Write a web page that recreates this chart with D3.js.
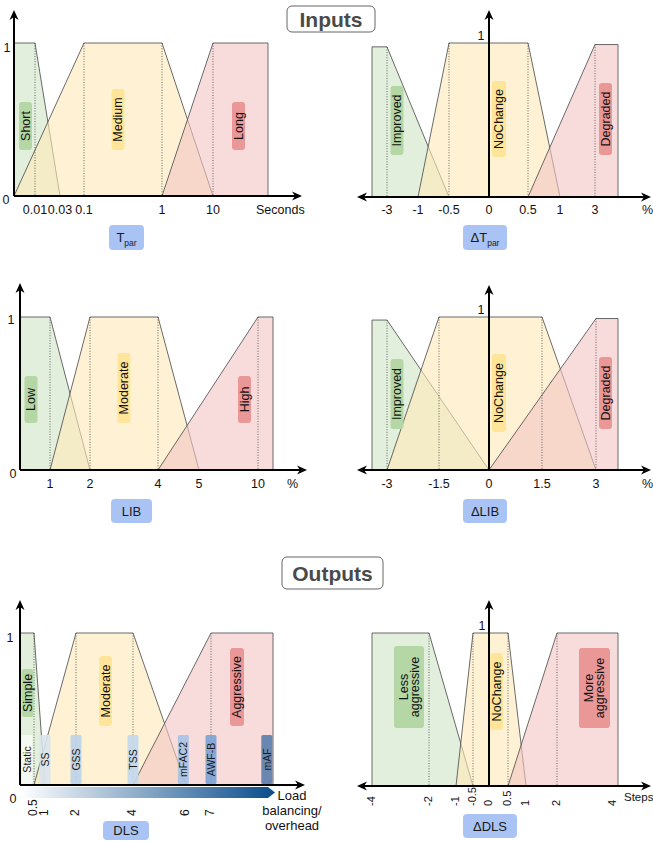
<!DOCTYPE html>
<html><head><meta charset="utf-8">
<script src="https://cdn.jsdelivr.net/npm/d3@7"></script>
<style>body{margin:0;background:#fff}svg{display:block;font-family:"Liberation Sans",Arial,Helvetica,sans-serif}</style>
</head><body><svg id="c" width="653" height="843"></svg>
<script>
// ================= DATA =================
// Tpar (seconds)
const tparDomain = [0, 0.01, 0.03, 0.1, 1, 10, 20];
const tparTicks = [0.01, 0.03, 0.1, 1, 10];
const tparTickLabels = ["0.01", "0.03", "0.1", "1", "10"];
const tparSetNames = ["Short", "Medium", "Long"];
const tparSetPoints = [[0, 0, 0.01, 0.03], [0, 0.1, 1, 10], [1, 10, 20, 20]];
const tparPeaks = [1, 1, 1];

// ΔTpar (%)
const dTparDomain = [-4, -3, -1, -0.5, 0, 0.5, 1, 3, 4];
const dTparTicks = [-3, -1, -0.5, 0, 0.5, 1, 3];
const dTparTickLabels = ["-3", "-1", "-0.5", "0", "0.5", "1", "3"];
const dTparSetNames = ["Improved", "NoChange", "Degraded"];
const dTparSetPoints = [[-4, -4, -3, -0.5], [-1, -0.5, 0.5, 1], [0.5, 3, 4, 4]];
const dTparPeaks = [0.975, 1, 0.99];

// LIB (%)
const libDomain = [0, 1, 2, 4, 5, 10, 12];
const libTicks = [1, 2, 4, 5, 10];
const libTickLabels = ["1", "2", "4", "5", "10"];
const libSetNames = ["Low", "Moderate", "High"];
const libSetPoints = [[0, 0, 1, 2], [1, 2, 4, 5], [4, 10, 12, 12]];
const libPeaks = [1, 1, 1];

// ΔLIB (%)
const dLibDomain = [-4, -3, -1.5, 0, 1.5, 3, 4];
const dLibTicks = [-3, -1.5, 0, 1.5, 3];
const dLibTickLabels = ["-3", "-1.5", "0", "1.5", "3"];
const dLibSetNames = ["Improved", "NoChange", "Degraded"];
const dLibSetPoints = [[-4, -4, -3, 0], [-3, -1.5, 1.5, 3], [0, 3, 4, 4]];
const dLibPeaks = [0.98, 1, 0.99];

// DLS (load balancing / overhead)
const dlsDomain = [0, 0.5, 1, 2, 4, 6, 7, 8];
const dlsTicks = [0.5, 1, 2, 4, 6, 7];
const dlsTickLabels = ["0.5", "1", "2", "4", "6", "7"];
const dlsSetNames = ["Simple", "Moderate", "Aggressive"];
const dlsSetPoints = [[0, 0, 0.5, 1], [0.5, 2, 4, 6], [4, 7, 8, 8]];
const dlsPeaks = [1, 1, 1];
const dlsTechniques = ["Static", "SS", "GSS", "TSS", "mFAC2", "AWF-B", "mAF"];
const dlsTechniquePos = [0.25, 1, 2, 4, 5.9, 7, 7.9];

// ΔDLS (steps)
const dDlsDomain = [-4, -2, -1, -0.5, 0, 0.5, 1, 2, 4, 4.2];
const dDlsTicks = [-4, -2, -1, -0.5, 0, 0.5, 1, 2, 4];
const dDlsTickLabels = ["-4", "-2", "-1", "-0.5", "0", "0.5", "1", "2", "4"];
const dDlsSetNames = ["Less\naggressive", "NoChange", "More\naggressive"];
const dDlsSetPoints = [[-4, -4, -2, -0.5], [-1, -0.5, 0.5, 1], [0.5, 2, 4.2, 4.2]];
const dDlsPeaks = [1, 1, 1];

// ================= STYLE / LAYOUT =================
const setFill = ["#cfe5c6", "#ffe9b8", "#f4c4c4"];
const labelFill = ["#b4d7a5", "#ffe599", "#e99797"];
const techFill = ["#f6faf3", "#d7e3ec", "#bdd3e9", "#c3d8ec", "#a6c2e5", "#7aa2d5", "#5a7dac"];
const nameFill = "#a9c4f4";

const svg = d3.select("#c");
const defs = svg.append("defs");
defs.append("marker").attr("id", "arr").attr("viewBox", "0 0 10 10")
  .attr("refX", 8).attr("refY", 5).attr("markerWidth", 5).attr("markerHeight", 5)
  .attr("orient", "auto-start-reverse")
  .append("path").attr("d", "M0,0.5 L10,5 L0,9.5 L3,5 Z").attr("fill", "#000");
const lg = defs.append("linearGradient").attr("id", "lbgrad").attr("x1", 0).attr("x2", 1).attr("y1", 0).attr("y2", 0);
lg.append("stop").attr("offset", 0).attr("stop-color", "#ffffff");
lg.append("stop").attr("offset", 1).attr("stop-color", "#0a4c8c");

const panels = [
  { domain: tparDomain, range: [14, 35, 60, 84, 162, 213, 268], ax: 14, base: 196, top: 43, yTop: 10,
    xStart: 14, xEnd: 302, both: false, ticks: tparTicks, tickLabels: tparTickLabels, tickY: 214,
    sets: tparSetPoints, peaks: tparPeaks, names: tparSetNames,
    boxes: [[25.5, 102, 150, 13], [118, 89, 150, 13], [238.5, 102, 150, 13]],
    unit: { text: "Seconds", x: 256, y: 214, size: 12.5 }, one: [7, 52], zero: [6, 204],
    name: { x: 109, y: 225, w: 35, h: 25, main: "T", sub: "par" } },
  { domain: dTparDomain, range: [372, 387, 418, 449, 489, 528, 560, 595, 618], ax: 489, base: 197, top: 43, yTop: 10,
    xStart: 357, xEnd: 651, both: true, ticks: dTparTicks, tickLabels: dTparTickLabels, tickY: 214,
    sets: dTparSetPoints, peaks: dTparPeaks, names: dTparSetNames,
    boxes: [[397, 86, 155, 13], [499, 81, 157, 14], [605.5, 83, 155, 13]],
    unit: { text: "%", x: 642, y: 214, size: 12.5 }, one: [481, 40], zero: null,
    name: { x: 463, y: 225, w: 44, h: 25, main: "\u0394T", sub: "par" } },
  { domain: libDomain, range: [20, 50, 90, 158, 199, 258, 273], ax: 20, base: 470, top: 317, yTop: 283,
    xStart: 20, xEnd: 307, both: false, ticks: libTicks, tickLabels: libTickLabels, tickY: 488,
    sets: libSetPoints, peaks: libPeaks, names: libSetNames,
    boxes: [[31, 376, 423, 13], [124, 353, 423, 13], [244.5, 376, 423, 13]],
    unit: { text: "%", x: 287, y: 488, size: 12.5 }, one: [11, 324], zero: [13, 478],
    name: { x: 111, y: 499, w: 41, h: 24, main: "LIB", sub: null } },
  { domain: dLibDomain, range: [372, 387, 439, 489, 542, 596, 618], ax: 489, base: 470, top: 317, yTop: 285,
    xStart: 357, xEnd: 651, both: true, ticks: dLibTicks, tickLabels: dLibTickLabels, tickY: 488,
    sets: dLibSetPoints, peaks: dLibPeaks, names: dLibSetNames,
    boxes: [[397, 359, 429, 13], [499, 354, 432, 14], [605.5, 357, 429, 13]],
    unit: { text: "%", x: 642, y: 488, size: 12.5 }, one: [481, 314], zero: null,
    name: { x: 463, y: 499, w: 44, h: 24, main: "\u0394LIB", sub: null } },
  { domain: dlsDomain, range: [20, 34, 45, 76, 133, 186, 211, 273], ax: 20, base: 785, top: 633, yTop: 600,
    xStart: 20, xEnd: 305, both: false, ticks: dlsTicks, tickLabels: dlsTickLabels, tickY: 816, rotTicks: true, tickSize: 12,
    sets: dlsSetPoints, peaks: dlsPeaks, names: dlsSetNames,
    boxes: [[27.5, 669, 717, 12], [105.5, 656, 726, 13], [237, 648, 726, 14]],
    unit: null, one: [10, 642], zero: [13, 803],
    name: { x: 103, y: 821, w: 46, h: 19, main: "DLS", sub: null } },
  { domain: dDlsDomain, range: [372, 429, 456, 473, 489, 508, 526, 557, 613, 618], ax: 489, base: 786, top: 633, yTop: 600,
    xStart: 357, xEnd: 651, both: true, ticks: dDlsTicks, tickLabels: dDlsTickLabels, tickY: 806, rotTicks: true, tickSize: 11,
    sets: dDlsSetPoints, peaks: dDlsPeaks, names: dDlsSetNames,
    boxes: [[409, 646, 728, 30], [496.5, 653, 730, 13], [594.5, 648, 728, 31]],
    unit: { text: "Steps", x: 624, y: 801, size: 11.5 }, one: [482, 630], zero: null,
    name: { x: 463, y: 814, w: 54, h: 24, main: "\u0394DLS", sub: null } }
];

function drawPanel(p, idx) {
  const g = svg.append("g");
  const x = d3.scaleLinear().domain(p.domain).range(p.range);
  const y = d3.scaleLinear().domain([0, 1]).range([p.base, p.top]);
  const line = d3.line().x(d => x(d[0])).y(d => y(d[1]));

  // trapezoid membership functions
  const trap = p.sets.map((s, i) => ({ s, i, pk: p.peaks[i],
    pts: [[s[0], 0], [s[1], p.peaks[i]], [s[2], p.peaks[i]], [s[3], 0]] }));
  g.selectAll("path.set").data(trap).join("path").attr("class", "set")
    .attr("d", d => line(d.pts) + "Z")
    .attr("fill", d => setFill[d.i]).attr("fill-opacity", 0.6)
    .attr("stroke", "#505050").attr("stroke-width", 0.85).attr("stroke-linejoin", "round");

  // dotted lines at interior top corners
  const dots = [];
  trap.forEach(d => {
    if (d.s[1] > d.s[0]) dots.push([d.s[1], d.pk]);
    if (d.s[3] > d.s[2]) dots.push([d.s[2], d.pk]);
  });
  g.selectAll("line.dot").data(dots).join("line").attr("class", "dot")
    .attr("x1", d => x(d[0])).attr("x2", d => x(d[0]))
    .attr("y1", d => y(d[1])).attr("y2", p.base)
    .attr("stroke", "#444").attr("stroke-width", 0.8).attr("stroke-dasharray", "1,1.6");

  // DLS technique boxes
  if (idx === 4) {
    const tg = g.selectAll("g.tech").data(dlsTechniques.map((t, i) => ({ t, i, v: dlsTechniquePos[i] })))
      .join("g").attr("class", "tech");
    tg.append("rect").attr("x", d => x(d.v) - 5.5).attr("y", 735).attr("width", 11).attr("height", 49)
      .attr("rx", 1.5).attr("fill", d => techFill[d.i]).attr("fill-opacity", 0.9);
    tg.append("text").attr("transform", d => `translate(${x(d.v)},759.5) rotate(-90)`)
      .attr("text-anchor", "middle").attr("dominant-baseline", "central")
      .attr("font-size", 10.5).attr("fill", "#1a1a1a").text(d => d.t);
    // gradient arrow
    const gx0 = x(dlsDomain[0]), gx1 = 268, gy0 = 787, gy1 = 798;
    g.append("path").attr("d", `M${gx0},${gy0} L${gx1},${gy0} L${gx1 + 7},${(gy0 + gy1) / 2} L${gx1},${gy1} L${gx0},${gy1} Z`)
      .attr("fill", "url(#lbgrad)");
    const lt = g.append("text").attr("text-anchor", "middle").attr("font-size", 13).attr("fill", "#111");
    ["Load", "balancing/", "overhead"].forEach((s, k) =>
      lt.append("tspan").attr("x", 292).attr("y", 800 + k * 15).text(s));
  }

  // axes
  g.append("line").attr("x1", p.ax).attr("x2", p.ax).attr("y1", p.base).attr("y2", p.yTop + 2)
    .attr("stroke", "#000").attr("stroke-width", 2).attr("marker-end", "url(#arr)");
  const xa = g.append("line").attr("x1", p.xStart + (p.both ? 2 : 0)).attr("x2", p.xEnd - 2)
    .attr("y1", p.base).attr("y2", p.base).attr("stroke", "#000").attr("stroke-width", 2)
    .attr("marker-end", "url(#arr)");
  if (p.both) xa.attr("marker-start", "url(#arr)");

  // tick labels
  const tl = g.selectAll("text.tick").data(p.ticks.map((t, i) => ({ t, l: p.tickLabels[i] })))
    .join("text").attr("class", "tick").attr("fill", "#111");
  if (p.rotTicks) {
    tl.attr("transform", d => `translate(${x(d.t) - 1},${p.tickY}) rotate(-90)`)
      .attr("text-anchor", "start").attr("dominant-baseline", "central")
      .attr("font-size", p.tickSize).text(d => d.l);
  } else {
    tl.attr("x", d => x(d.t)).attr("y", p.tickY).attr("text-anchor", "middle")
      .attr("font-size", 12.5).text(d => d.l);
  }
  if (p.unit) g.append("text").attr("x", p.unit.x).attr("y", p.unit.y).attr("font-size", p.unit.size)
    .attr("fill", "#111").text(p.unit.text);
  if (p.one) g.append("text").attr("x", p.one[0]).attr("y", p.one[1]).attr("text-anchor", "middle")
    .attr("font-size", 12.5).attr("fill", "#111").text("1");
  if (p.zero) g.append("text").attr("x", p.zero[0]).attr("y", p.zero[1]).attr("text-anchor", "middle")
    .attr("font-size", 12.5).attr("fill", "#111").text("0");

  // set labels
  p.names.forEach((n, i) => {
    const b = p.boxes[i];
    g.append("rect").attr("x", b[0] - b[3] / 2).attr("y", b[1]).attr("width", b[3]).attr("height", b[2] - b[1])
      .attr("rx", 3).attr("fill", labelFill[i]);
    const lines = n.split("\n");
    const t = g.append("text").attr("transform", `translate(${b[0]},${(b[1] + b[2]) / 2}) rotate(-90)`)
      .attr("text-anchor", "middle").attr("font-size", 12.5).attr("fill", "#111");
    lines.forEach((s, k) => t.append("tspan").attr("x", 0)
      .attr("y", (k - (lines.length - 1) / 2) * 11).attr("dy", "0.35em").text(s));
  });

  // variable name box
  const nb = p.name;
  g.append("rect").attr("x", nb.x).attr("y", nb.y).attr("width", nb.w).attr("height", nb.h)
    .attr("rx", 4).attr("fill", nameFill);
  const nt = g.append("text").attr("x", nb.x + nb.w / 2).attr("y", nb.y + nb.h / 2 + 4.5)
    .attr("text-anchor", "middle").attr("font-size", 13).attr("fill", "#1a1a1a");
  nt.append("tspan").text(nb.main);
  if (nb.sub) nt.append("tspan").attr("font-size", 8.5).attr("dy", 4).text(nb.sub);
}

panels.forEach(drawPanel);

// section titles
[["Inputs", 287, 6, 88, 26], ["Outputs", 282, 557, 101, 32]].forEach(([t, bx, by, bw, bh]) => {
  svg.append("rect").attr("x", bx).attr("y", by).attr("width", bw).attr("height", bh).attr("rx", 5)
    .attr("fill", "#fff").attr("stroke", "#666").attr("stroke-width", 1);
  svg.append("text").attr("x", bx + bw / 2).attr("y", by + bh / 2 + 7.5).attr("text-anchor", "middle")
    .attr("font-size", 21).attr("font-weight", "bold").attr("fill", "#4a4a4a").text(t);
});
</script></body></html>
